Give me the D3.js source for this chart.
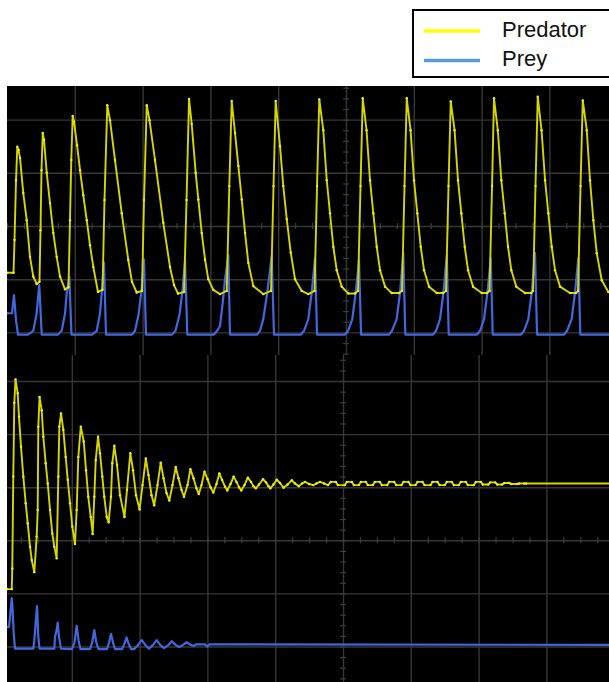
<!DOCTYPE html>
<html>
<head>
<meta charset="utf-8">
<script src="https://cdn.jsdelivr.net/npm/d3@7"></script>
<style>
  html, body { margin: 0; padding: 0; background: #fff; }
  .grid line { stroke: #363636; stroke-width: 1.4; }
  .grid path, .minor path { display: none; }
  .minor line { stroke: #3c3c3c; stroke-width: 1.2; }
</style>
</head>
<body>
<div id="chart"></div>
<script>
// legend entries
const seriesNames = ['Predator', 'Prey'];

// time in ms (10 ms/div), voltage in V (1 V/div)
const topPredator = [
    [0, -0.88], [0.96, -0.88], [1.11, -0.26], [1.33, 0.86], [1.52, 1.49],
    [1.70, 1.43], [1.92, 1.28], [2.40, 0.62], [2.91, 0.11], [3.39, -0.58], [3.88, -0.95], [4.38, -1.09],
    [4.79, -1.05], [4.94, -0.08], [5.09, 1.05], [5.27, 1.75],
    [5.46, 1.62], [5.86, 1.00], [6.34, 0.43], [6.83, -0.13], [7.33, -0.58], [7.82, -0.95], [8.56, -1.19],
    [9.07, -1.15], [9.29, 0.11], [9.48, 1.24], [9.69, 2.07],
    [9.88, 1.96], [10.33, 1.52], [10.77, 1.05], [11.25, 0.58], [11.76, 0.11], [12.24, -0.36], [12.73, -0.77], [13.42, -1.24],
    [14.09, -1.20], [14.38, 0.49], [14.79, 2.27],
    [15.19, 1.99], [15.93, 1.24], [16.92, 0.24], [17.89, -0.64], [18.44, -1.05], [19.13, -1.25],
    [19.91, -1.22], [20.21, 0.49], [20.61, 2.27],
    [21.02, 1.99], [21.83, 1.24], [23.05, 0.06], [24.04, -0.77], [24.63, -1.11], [25.22, -1.27],
    [26.11, -1.24], [26.48, 0.49], [26.85, 2.39],
    [27.24, 1.92], [27.83, 1.00], [28.22, 0.50], [28.72, -0.13], [29.21, -0.63], [29.69, -1.00], [30.43, -1.20], [31.42, -1.28],
    [32.41, -1.22], [32.79, 0.75], [33.14, 2.35],
    [33.63, 1.75], [34.12, 1.13], [34.62, 0.50], [35.11, -0.13], [35.59, -0.69], [36.33, -1.13], [37.80, -1.28],
    [38.94, -1.22], [39.31, 0.75], [39.63, 2.35],
    [40.27, 1.50], [40.75, 0.75], [41.26, 0.13], [41.85, -0.50], [42.48, -1.00], [43.47, -1.22], [44.44, -1.28],
    [45.36, -1.22], [45.73, 0.75], [46.06, 2.38],
    [46.65, 1.80], [47.16, 0.86], [47.64, 0.24], [48.13, -0.39], [48.63, -0.83], [49.37, -1.14], [50.34, -1.27], [51.33, -1.27],
    [51.77, -1.22], [52.14, 0.75], [52.47, 2.40],
    [53.03, 1.80], [53.54, 0.86], [54.03, 0.24], [54.53, -0.39], [55.02, -0.83], [55.76, -1.14], [56.74, -1.26], [57.82, -1.26],
    [58.26, -1.22], [58.63, 0.75], [58.96, 2.40],
    [59.52, 1.80], [60.03, 0.86], [60.52, 0.24], [61.02, -0.39], [61.51, -0.83], [62.25, -1.14], [63.38, -1.26], [64.31, -1.26],
    [64.75, -1.22], [65.12, 0.75], [65.45, 2.34],
    [66.01, 1.80], [66.52, 0.86], [67.01, 0.24], [67.51, -0.39], [68.00, -0.83], [68.74, -1.14], [70.02, -1.26], [70.80, -1.26],
    [71.17, -1.22], [71.54, 0.75], [71.83, 2.40],
    [72.39, 1.80], [72.91, 0.86], [73.41, 0.24], [73.90, -0.39], [74.38, -0.83], [75.12, -1.14], [76.41, -1.26], [77.29, -1.26],
    [77.59, -1.22], [77.95, 0.75], [78.28, 2.43],
    [78.84, 1.80], [79.36, 0.86], [79.84, 0.24], [80.34, -0.39], [80.83, -0.83], [81.57, -1.14], [83.04, -1.26], [83.93, -1.26],
    [84.22, -1.22], [84.59, 0.75], [84.92, 2.36],
    [85.51, 1.80], [85.99, 0.86], [86.48, 0.11], [86.98, -0.51], [87.72, -1.02], [88.69, -1.24], [89.68, -1.26]
];

const topPrey = [
    [0, -1.64], [0.74, -1.64], [1.03, -1.30], [1.33, -1.77], [1.62, -2.04],
    [3.10, -2.04], [3.88, -1.97], [4.38, -1.64], [4.57, -1.35], [4.76, -1.11], [5.12, -2.04],
    [7.52, -2.04], [8.07, -1.97], [8.56, -1.64], [8.81, -1.26], [9.19, -0.95], [9.51, -2.04],
    [12.54, -2.04], [13.23, -1.97], [13.72, -1.64], [14.01, -1.20], [14.31, -0.69], [14.60, -2.04],
    [18.44, -2.04], [18.88, -1.97], [19.40, -1.67], [19.84, -1.20], [20.21, -0.63], [20.50, -2.04],
    [24.34, -2.04], [24.85, -1.97], [25.44, -1.67], [25.89, -1.20], [26.26, -0.63], [26.59, -2.04],
    [30.53, -2.04], [30.98, -1.97], [31.42, -1.88], [31.82, -1.44], [32.16, -1.00], [32.64, -0.55], [32.89, -2.04],
    [36.88, -2.04], [37.32, -1.97], [37.80, -1.75], [38.39, -1.25], [39.04, -0.56], [39.38, -2.04],
    [43.37, -2.04], [43.81, -1.97], [44.44, -1.75], [44.94, -1.25], [45.43, -0.60], [45.73, -2.04],
    [49.86, -2.04], [50.30, -1.97], [50.93, -1.75], [51.43, -1.25], [51.92, -0.64], [52.22, -2.04],
    [56.35, -2.04], [56.79, -1.97], [57.47, -1.75], [57.97, -1.25], [58.45, -0.51], [58.75, -2.04],
    [62.84, -2.04], [63.28, -1.97], [63.87, -1.75], [64.37, -1.25], [64.86, -0.55], [65.15, -2.04],
    [69.33, -2.04], [69.77, -1.97], [70.36, -1.75], [70.86, -1.25], [71.35, -0.61], [71.64, -2.04],
    [75.82, -2.04], [76.26, -1.97], [76.89, -1.75], [77.39, -1.25], [77.88, -0.51], [78.18, -2.04],
    [82.16, -2.04], [82.60, -1.97], [83.28, -1.75], [83.78, -1.25], [84.27, -0.60], [84.56, -2.04],
    [89.68, -2.04]
];

const bottomPredator = [
    [0.44, -0.92], [1.14, -0.92], [1.22, -0.53], [1.37, 1.20], [1.52, 2.59], [1.70, 3.03],
    [2.02, 2.77], [2.21, 2.33], [2.51, 1.76], [2.85, 1.20], [3.20, 0.70], [3.50, 0.32], [3.84, -0.12], [4.09, -0.37], [4.47, -0.60],
    [4.82, 0.07], [4.97, 0.57], [5.06, 2.14], [5.24, 2.70],
    [5.56, 2.45], [5.80, 1.95], [6.15, 1.45], [6.45, 1.07], [6.79, 0.57], [7.12, 0.13], [7.42, -0.12], [7.77, -0.34],
    [8.01, 1.20], [8.16, 2.14], [8.41, 2.39],
    [8.75, 2.08], [9.10, 1.57], [9.40, 1.14], [9.74, 0.70], [10.07, 0.26], [10.47, -0.07],
    [10.72, 0.57], [10.96, 1.57], [11.33, 2.14],
    [11.76, 1.86], [12.10, 1.32], [12.43, 0.82], [12.79, 0.44], [13.08, 0.12],
    [13.32, 0.82], [13.53, 1.51], [13.87, 1.95],
    [14.16, 1.64], [14.50, 1.20], [14.79, 0.82], [15.15, 0.44], [15.44, 0.34],
    [15.78, 0.82], [15.97, 1.45], [16.27, 1.78],
    [16.67, 1.42], [17.11, 0.85], [17.77, 0.44], [18.14, 0.95], [18.63, 1.64],
    [19.03, 1.32], [19.47, 0.85], [20.00, 0.58], [20.43, 1.04], [20.92, 1.54],
    [21.31, 1.23], [21.76, 0.85], [22.15, 0.66], [22.64, 1.04], [23.11, 1.46],
    [23.53, 1.17], [23.97, 0.89], [24.38, 0.75], [24.85, 1.04], [25.33, 1.38],
    [25.74, 1.17], [26.18, 0.95], [26.55, 0.82], [27.07, 1.04], [27.49, 1.34],
    [27.95, 1.17], [28.39, 0.98], [28.72, 0.87], [29.13, 1.04], [29.57, 1.29],
    [30.02, 1.15], [30.46, 1.00], [30.87, 0.90], [31.34, 1.06], [31.76, 1.26],
    [32.16, 1.14], [32.60, 1.01], [32.94, 0.94], [33.41, 1.06], [33.87, 1.20],
    [34.29, 1.10], [34.66, 1.00], [34.99, 0.94], [35.47, 1.04], [35.96, 1.18],
    [36.43, 1.10], [36.80, 1.02], [37.14, 0.98], [37.61, 1.05], [38.20, 1.15],
    [38.65, 1.09], [39.01, 1.02], [39.28, 0.98], [39.75, 1.05], [40.22, 1.14],
    [40.71, 1.08], [41.23, 0.99], [41.82, 1.05], [42.44, 1.13],
    [42.92, 1.07], [43.48, 1.02], [43.96, 1.07], [44.40, 1.10],
    [44.99, 1.06], [45.62, 1.04], [46.09, 1.07], [46.61, 1.10],
    [47.20, 1.07], [47.79, 1.04],
    [48.20, 1.10], [48.94, 1.10], [49.24, 1.04], [50.27, 1.04], [50.56, 1.10], [51.30, 1.10], [51.60, 1.04],
    [52.33, 1.04], [52.63, 1.10], [53.37, 1.10], [53.66, 1.04], [54.40, 1.04], [54.69, 1.10], [55.43, 1.10], [55.73, 1.04],
    [56.52, 1.04], [56.82, 1.10], [57.55, 1.10], [57.85, 1.04], [58.63, 1.04], [58.93, 1.10], [59.66, 1.10], [59.96, 1.04],
    [60.70, 1.04], [60.99, 1.10], [61.73, 1.10], [62.02, 1.04], [62.91, 1.04], [63.20, 1.10], [63.94, 1.10], [64.24, 1.04],
    [65.02, 1.04], [65.31, 1.10], [66.05, 1.10], [66.35, 1.04], [67.08, 1.04], [67.38, 1.10], [68.12, 1.10], [68.41, 1.04],
    [69.30, 1.04], [69.59, 1.10], [70.33, 1.10], [70.62, 1.05], [71.42, 1.05], [71.71, 1.09], [72.45, 1.09], [72.75, 1.05],
    [73.48, 1.05], [73.78, 1.08], [74.52, 1.08], [74.81, 1.06], [75.70, 1.06], [75.99, 1.07], [76.73, 1.07], [77.02, 1.07],
    [90.12, 1.07]
];

const bottomPrey = [
    [0.44, -1.63], [0.74, -1.63], [0.89, -1.44], [1.14, -1.09], [1.22, -1.19], [1.43, -1.75], [1.62, -2.04],
    [4.32, -2.04], [4.47, -1.88], [4.68, -1.56], [4.87, -1.24], [5.06, -1.82], [5.24, -2.04],
    [7.42, -2.04], [7.52, -1.82], [7.77, -1.69], [7.92, -1.55], [8.11, -1.82], [8.41, -2.04],
    [10.03, -2.05], [10.40, -1.92], [10.72, -1.61], [10.99, -1.88], [11.28, -2.05],
    [12.69, -2.05], [13.02, -1.92], [13.32, -1.69], [13.61, -1.92], [13.94, -2.05],
    [15.19, -2.05], [15.49, -1.93], [15.78, -1.76], [16.08, -1.93], [16.37, -2.05],
    [17.41, -2.05], [17.74, -1.95], [18.07, -1.83], [18.39, -1.95], [18.73, -2.05],
    [19.18, -2.05], [19.77, -1.97], [20.31, -1.88], [20.84, -1.97], [21.39, -2.04], [21.98, -1.97], [22.52, -1.88],
    [23.08, -1.98], [23.60, -2.03], [24.19, -1.98], [24.74, -1.90], [25.30, -1.97], [25.81, -2.01], [26.40, -1.97],
    [26.95, -1.92], [27.51, -1.97], [28.03, -1.99], [28.32, -1.96], [29.65, -1.96], [29.99, -2.00], [30.31, -1.96],
    [90.12, -1.97]
];

let svg,
    legendG,
    width = 609,
    height = 682,
    panels = [
        { predator: topPredator, prey: topPrey, left: 7, right: 609, top: 86, bottom: 355, x0: 7, x1: 685, yMid: 226, yDiv: 53.2 },
        { predator: bottomPredator, prey: bottomPrey, left: 7, right: 609, top: 355, bottom: 682, x0: 4, x1: 682, yMid: 540.3, yDiv: 53.1 }
    ];

svg = d3.select('#chart')
    .append('svg')
        .attr('width', width)
        .attr('height', height)
        .style('display', 'block');

panels.forEach((p, i) => {
    let x = d3.scaleLinear().domain([0, 100]).range([p.x0, p.x1]),
        y = d3.scaleLinear().domain([-4, 4]).range([p.yMid + 4 * p.yDiv, p.yMid - 4 * p.yDiv]),
        line = d3.line().x(d => x(d[0])).y(d => y(d[1])),
        g;

    svg.append('clipPath')
        .attr('id', 'clip-' + i)
        .append('rect')
            .attr('x', p.left)
            .attr('y', p.top)
            .attr('width', p.right - p.left)
            .attr('height', p.bottom - p.top);

    g = svg.append('g')
        .attr('clip-path', 'url(#clip-' + i + ')');

    g.append('rect')
        .attr('x', p.left)
        .attr('y', p.top)
        .attr('width', p.right - p.left)
        .attr('height', p.bottom - p.top)
        .attr('fill', '#000');

    // graticule: 10 x 8 divisions
    g.append('g')
        .attr('class', 'grid')
        .attr('transform', 'translate(0,' + y(-4) + ')')
        .call(d3.axisBottom(x).tickValues(d3.range(10, 100, 10)).tickSize(y(4) - y(-4)).tickFormat(''));

    g.append('g')
        .attr('class', 'grid')
        .attr('transform', 'translate(' + x(0) + ',0)')
        .call(d3.axisLeft(y).tickValues(d3.range(-3, 4, 1)).tickSize(x(0) - x(100)).tickFormat(''));

    // minor ticks on the centre cross
    g.append('g')
        .attr('class', 'minor')
        .attr('transform', 'translate(0,' + (y(0) - 3) + ')')
        .call(d3.axisBottom(x).tickValues(d3.range(0, 100.1, 2.5)).tickSize(6).tickFormat(''));

    g.append('g')
        .attr('class', 'minor')
        .attr('transform', 'translate(' + (x(50) + 3) + ',0)')
        .call(d3.axisLeft(y).tickValues(d3.range(-4, 4.01, 0.2)).tickSize(6).tickFormat(''));

    g.append('path')
        .datum(p.prey)
        .attr('d', line)
        .attr('fill', 'none')
        .attr('stroke', '#4367dc')
        .attr('stroke-width', 2.2)
        .attr('stroke-linejoin', 'round');

    g.append('path')
        .datum(p.predator)
        .attr('d', line)
        .attr('fill', 'none')
        .attr('stroke', '#d6d600')
        .attr('stroke-width', 1.9)
        .attr('stroke-linejoin', 'round');

    g.append('g')
        .selectAll('circle')
        .data(p.predator)
        .enter()
        .append('circle')
            .attr('cx', d => x(d[0]))
            .attr('cy', d => y(d[1]))
            .attr('r', 1.2)
            .attr('fill', '#f0f010');
});

// legend box, partly off the right edge
legendG = svg.append('g')
    .attr('class', 'legend');

legendG.append('rect')
    .attr('x', 413)
    .attr('y', 10)
    .attr('width', 210)
    .attr('height', 67)
    .attr('fill', '#fff')
    .attr('stroke', '#000')
    .attr('stroke-width', 2);

legendG.selectAll('line')
    .data(seriesNames)
    .enter()
    .append('line')
        .attr('x1', 424)
        .attr('x2', 480)
        .attr('y1', (d, i) => 31 + i * 29.5)
        .attr('y2', (d, i) => 31 + i * 29.5)
        .attr('stroke', (d, i) => i ? '#5b9bd5' : '#ffff00')
        .attr('stroke-width', 3.5);

legendG.selectAll('text')
    .data(seriesNames)
    .enter()
    .append('text')
        .text(d => d)
        .attr('x', 502)
        .attr('y', (d, i) => 36.7 + i * 29.2)
        .style('font-family', '"Liberation Sans", Arial, sans-serif')
        .style('font-size', '22px')
        .attr('fill', '#111');
</script>
</body>
</html>
